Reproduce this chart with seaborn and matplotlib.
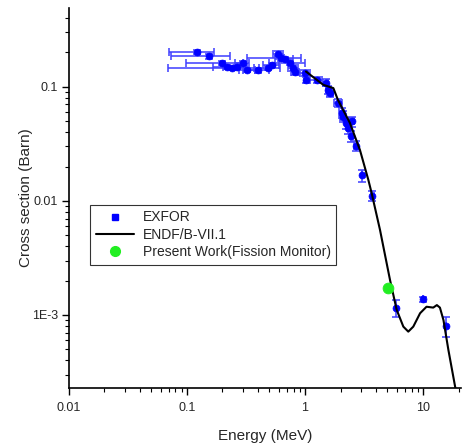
import numpy as np
import pandas as pd
import seaborn as sns
import matplotlib.pyplot as plt
from matplotlib.lines import Line2D
from matplotlib.ticker import FixedLocator, LogLocator, NullFormatter

##===================DATA===================##
exfor_E = [0.121, 0.154, 0.199, 0.217, 0.239, 0.264, 0.297, 0.324, 0.397, 0.489,
           0.522, 0.594, 0.622, 0.677, 0.746, 0.796, 0.823, 1.00, 1.03, 1.256,
           1.50, 1.575, 1.63, 1.915, 2.05, 2.11, 2.22, 2.33, 2.49, 2.44,
           2.71, 3.02, 3.72, 5.90, 9.94, 15.6]
exfor_xs = [0.201, 0.185, 0.162, 0.150, 0.146, 0.150, 0.162, 0.141, 0.139, 0.146,
            0.156, 0.195, 0.179, 0.175, 0.162, 0.146, 0.136, 0.132, 0.115, 0.115,
            0.109, 0.094, 0.088, 0.072, 0.0588, 0.0549, 0.048, 0.0434, 0.0497, 0.0367,
            0.0304, 0.0167, 0.0111, 1.15e-3, 1.37e-3, 8.0e-4]
exfor_dE = [0.05, 0.08, 0.10, 0.05, 0.17, 0.06, 0.04, 0.05, 0.10, 0.12,
            0.08, 0.06, 0.30, 0.12, 0.25, 0.08, 0.06, 0.10, 0.05, 0.15,
            0.08, 0.08, 0.10, 0.15, 0.10, 0.12, 0.05, 0.08, 0.10, 0.05,
            0.10, 0.0, 0.10, 0.0, 0.0, 0.0]
exfor_dxs = [0.008, 0.008, 0.007, 0.006, 0.006, 0.006, 0.007, 0.006, 0.006, 0.006,
             0.007, 0.010, 0.010, 0.008, 0.008, 0.008, 0.008, 0.008, 0.008, 0.007,
             0.008, 0.008, 0.007, 0.006, 0.006, 0.006, 0.005, 0.005, 0.005, 0.004,
             0.003, 0.0020, 0.0012, 0.2e-3, 0.08e-3, 1.6e-4]

endf_E = [1.02, 1.43, 1.74, 1.90, 2.40, 2.92, 3.44, 3.67, 4.32, 5.25, 5.98,
          6.81, 7.50, 8.27, 9.44, 10.7, 12.2, 13.1, 13.9, 14.9, 16.4, 18.7, 19.8]
endf_xs = [0.136, 0.104, 0.0974, 0.0769, 0.0483, 0.028, 0.0153, 0.0117, 5.57e-3,
           2.03e-3, 1.11e-3, 7.9e-4, 7.14e-4, 7.9e-4, 1.035e-3, 1.18e-3, 1.16e-3,
           1.22e-3, 1.16e-3, 9.0e-4, 4.93e-4, 2.35e-4, 1.8e-4]

present_E = [5.08]
present_xs = [1.71e-3]

df_exfor = pd.DataFrame({"E": exfor_E, "xs": exfor_xs})
df_endf = pd.DataFrame({"E": endf_E, "xs": endf_xs})
df_present = pd.DataFrame({"E": present_E, "xs": present_xs})

##===================PLOT===================##
sns.set_style("ticks")
plt.rcParams['font.family'] = ['Liberation Sans', 'DejaVu Sans']

fig = plt.figure(figsize=(4.62, 4.48), dpi=100)
ax = fig.add_axes([0.149, 0.134, 0.849, 0.848])

ax.errorbar(exfor_E, exfor_xs, xerr=exfor_dE, yerr=exfor_dxs, fmt='none',
            ecolor=(0.25, 0.25, 1.0, 0.8), elinewidth=1.4, capsize=3, capthick=1.4, zorder=2)
sns.scatterplot(data=df_exfor, x="E", y="xs", ax=ax, color="#0000ff", marker='o',
                s=25, edgecolor="#0000ff", linewidth=0.5, zorder=3, legend=False)
sns.lineplot(data=df_endf, x="E", y="xs", ax=ax, color="black", linewidth=1.5,
             sort=False, zorder=4, legend=False)
sns.scatterplot(data=df_present, x="E", y="xs", ax=ax, color="#22ee22", marker='o',
                s=60, edgecolor="#22ee22", zorder=5, legend=False)

ax.set_xscale('log')
ax.set_yscale('log')
ax.set_xlim(0.01, 21)
ax.set_ylim(2.29e-4, 0.49)

ax.xaxis.set_major_locator(FixedLocator([0.01, 0.1, 1, 10]))
ax.set_xticklabels(["0.01", "0.1", "1", "10"])
ax.xaxis.set_minor_locator(LogLocator(base=10, subs=np.arange(2, 10), numticks=20))
ax.xaxis.set_minor_formatter(NullFormatter())
ax.yaxis.set_major_locator(FixedLocator([1e-3, 0.01, 0.1]))
ax.set_yticklabels(["1E-3", "0.01", "0.1"])
ax.yaxis.set_minor_locator(LogLocator(base=10, subs=np.arange(2, 10), numticks=20))
ax.yaxis.set_minor_formatter(NullFormatter())

ax.tick_params(which='major', direction='out', length=5, width=1, labelsize=9, color='black')
ax.tick_params(axis='x', which='major', pad=5)
ax.tick_params(axis='y', which='major', pad=3)
ax.tick_params(which='minor', direction='out', length=3, width=0.8, color='black')
for s in ['top', 'right']:
    ax.spines[s].set_visible(False)
for s in ['left', 'bottom']:
    ax.spines[s].set_linewidth(1.2)
    ax.spines[s].set_color('black')

ax.set_xlabel("Energy (MeV)", fontsize=11, labelpad=11)
ax.set_ylabel("Cross section (Barn)", fontsize=11, labelpad=-1)

handles = [
    Line2D([], [], color='#0000ff', marker='s', linestyle='none', markersize=4),
    Line2D([], [], color='black', linewidth=1.5),
    Line2D([], [], color='#22ee22', marker='o', linestyle='none', markersize=7),
]
labels = ["EXFOR", "ENDF/B-VII.1", "Present Work(Fission Monitor)"]
leg = ax.legend(handles, labels, loc='lower left', bbox_to_anchor=(0.054, 0.324),
                borderaxespad=0, fontsize=10, frameon=True, fancybox=False,
                handlelength=2.8, labelspacing=0.25, borderpad=0.4, handletextpad=0.6)
leg.get_frame().set_edgecolor('black')
leg.get_frame().set_linewidth(0.8)

fig.savefig("out.png", dpi=100)
